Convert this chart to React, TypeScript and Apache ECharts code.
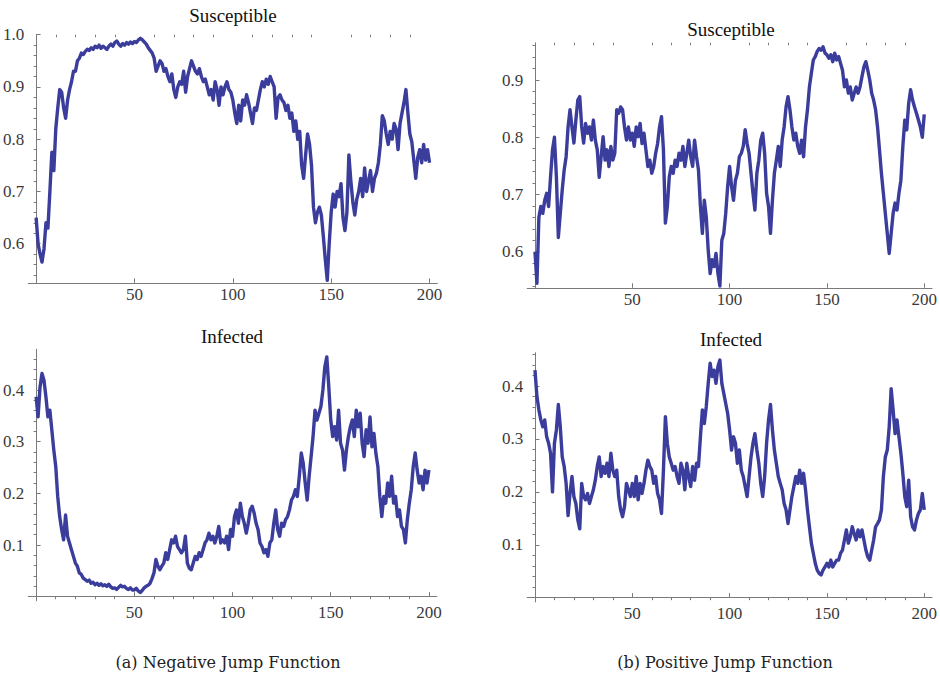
import React, { useEffect, useRef } from 'react';
import * as echarts from 'echarts';

// ---------------- data ----------------
// time steps 0..200 (one value per step)
const S_NEG = [
  0.65, 0.60, 0.58, 0.565, 0.59, 0.64, 0.63, 0.70, 0.775, 0.74,
  0.82, 0.86, 0.895, 0.89, 0.86, 0.84, 0.875, 0.895, 0.91, 0.93,
  0.93, 0.95, 0.955, 0.965, 0.962, 0.968, 0.972, 0.97, 0.975, 0.972,
  0.978, 0.975, 0.98, 0.974, 0.978, 0.975, 0.972, 0.978, 0.982, 0.978,
  0.985, 0.988, 0.982, 0.978, 0.983, 0.98, 0.985, 0.982, 0.986, 0.983,
  0.987, 0.985, 0.99, 0.993, 0.99, 0.986, 0.982, 0.975, 0.97, 0.965,
  0.955, 0.93, 0.94, 0.95, 0.945, 0.93, 0.935, 0.92, 0.91, 0.925,
  0.895, 0.88, 0.90, 0.91, 0.905, 0.93, 0.89, 0.92, 0.935, 0.95,
  0.94, 0.93, 0.925, 0.935, 0.92, 0.91, 0.915, 0.90, 0.885, 0.895,
  0.875, 0.91, 0.895, 0.865, 0.90, 0.885, 0.90, 0.91, 0.895, 0.89,
  0.875, 0.85, 0.83, 0.865, 0.835, 0.875, 0.865, 0.885, 0.87, 0.85,
  0.83, 0.86, 0.855, 0.875, 0.895, 0.91, 0.90, 0.915, 0.905, 0.92,
  0.91, 0.90, 0.84, 0.88, 0.885, 0.875, 0.87, 0.855, 0.865, 0.84,
  0.85, 0.815, 0.835, 0.80, 0.815, 0.75, 0.725, 0.77, 0.81, 0.79,
  0.75, 0.67, 0.64, 0.66, 0.67, 0.655, 0.615, 0.57, 0.53, 0.60,
  0.66, 0.695, 0.67, 0.70, 0.69, 0.715, 0.65, 0.625, 0.66, 0.77,
  0.72, 0.68, 0.655, 0.685, 0.70, 0.725, 0.69, 0.745, 0.70, 0.72,
  0.74, 0.70, 0.725, 0.735, 0.755, 0.79, 0.845, 0.835, 0.81, 0.79,
  0.815, 0.80, 0.83, 0.82, 0.78, 0.83, 0.85, 0.87, 0.895, 0.85,
  0.81, 0.795, 0.76, 0.725, 0.765, 0.78, 0.755, 0.79, 0.76, 0.78,
  0.755,
];

const S_POS = [
  0.60, 0.545, 0.66, 0.679, 0.667, 0.69, 0.702, 0.679, 0.731, 0.778,
  0.80, 0.731, 0.625, 0.667, 0.708, 0.743, 0.766, 0.818, 0.848, 0.818,
  0.79, 0.83, 0.865, 0.871, 0.818, 0.79, 0.824, 0.807, 0.818, 0.795,
  0.83, 0.795, 0.778, 0.73, 0.766, 0.801, 0.76, 0.778, 0.749, 0.784,
  0.76, 0.772, 0.848, 0.842, 0.853, 0.848, 0.818, 0.795, 0.818, 0.795,
  0.807, 0.784, 0.818, 0.801, 0.824, 0.789, 0.807, 0.778, 0.749, 0.76,
  0.737, 0.749, 0.772, 0.789, 0.818, 0.836, 0.778, 0.65, 0.679, 0.731,
  0.749, 0.737, 0.76, 0.749, 0.772, 0.76, 0.784, 0.749, 0.772, 0.795,
  0.766, 0.749, 0.795, 0.766, 0.743, 0.679, 0.632, 0.69, 0.661, 0.603,
  0.562, 0.586, 0.574, 0.597, 0.562, 0.54, 0.62, 0.632, 0.667, 0.714,
  0.749, 0.714, 0.69, 0.725, 0.737, 0.766, 0.772, 0.784, 0.813, 0.789,
  0.772, 0.737, 0.702, 0.673, 0.737, 0.76, 0.795, 0.807, 0.772, 0.702,
  0.679, 0.632, 0.69, 0.737, 0.76, 0.784, 0.749, 0.795, 0.818, 0.853,
  0.871, 0.848, 0.818, 0.795, 0.807, 0.784, 0.772, 0.795, 0.766, 0.818,
  0.848, 0.888, 0.912, 0.935, 0.941, 0.95, 0.955, 0.952, 0.958, 0.947,
  0.944, 0.938, 0.944, 0.932, 0.947, 0.935, 0.941, 0.929, 0.917, 0.888,
  0.90, 0.877, 0.888, 0.865, 0.877, 0.888, 0.877, 0.888, 0.906, 0.923,
  0.932, 0.917, 0.90, 0.877, 0.865, 0.848, 0.818, 0.778, 0.737, 0.702,
  0.667, 0.632, 0.597, 0.632, 0.667, 0.685, 0.673, 0.702, 0.725, 0.784,
  0.83, 0.813, 0.859, 0.883, 0.865, 0.853, 0.842, 0.83, 0.818, 0.80,
  0.84,
];

const I_NEG = [
  0.387, 0.348, 0.406, 0.432, 0.419, 0.387, 0.348, 0.361, 0.323, 0.284,
  0.252, 0.194, 0.155, 0.13, 0.11, 0.158, 0.117, 0.104, 0.091, 0.078,
  0.065, 0.059, 0.046, 0.043, 0.036, 0.033, 0.03, 0.032, 0.026, 0.028,
  0.023, 0.026, 0.022, 0.025, 0.021, 0.023, 0.02, 0.024, 0.019, 0.016,
  0.017, 0.014, 0.018, 0.022, 0.019, 0.02, 0.016, 0.014, 0.017, 0.013,
  0.013, 0.016, 0.011, 0.008, 0.012, 0.017, 0.02, 0.022, 0.026, 0.035,
  0.046, 0.072, 0.059, 0.052, 0.059, 0.065, 0.085, 0.072, 0.091, 0.11,
  0.104, 0.117, 0.097, 0.091, 0.085, 0.091, 0.117, 0.065, 0.055, 0.052,
  0.065, 0.078, 0.072, 0.085, 0.078, 0.091, 0.104, 0.11, 0.123, 0.11,
  0.117, 0.104, 0.117, 0.136, 0.104, 0.11, 0.104, 0.117, 0.091, 0.13,
  0.117, 0.155, 0.168, 0.142, 0.181, 0.155, 0.142, 0.123, 0.142, 0.168,
  0.175, 0.162, 0.142, 0.13, 0.104, 0.097, 0.085, 0.091, 0.078, 0.104,
  0.11, 0.142, 0.168, 0.13, 0.117, 0.142, 0.136, 0.149, 0.155, 0.168,
  0.187, 0.194, 0.207, 0.194, 0.233, 0.278, 0.258, 0.22, 0.187, 0.233,
  0.271, 0.31, 0.361, 0.342, 0.355, 0.368, 0.40, 0.445, 0.464, 0.407,
  0.342, 0.31, 0.329, 0.303, 0.361, 0.297, 0.284, 0.245, 0.284, 0.31,
  0.329, 0.342, 0.31, 0.361, 0.329, 0.355, 0.297, 0.271, 0.323, 0.297,
  0.348, 0.29, 0.316, 0.277, 0.252, 0.194, 0.155, 0.194, 0.181, 0.22,
  0.194, 0.233, 0.181, 0.194, 0.155, 0.168, 0.136, 0.13, 0.104, 0.149,
  0.181, 0.207, 0.252, 0.278, 0.245, 0.22, 0.233, 0.207, 0.245, 0.22,
  0.245,
];

const I_POS = [
  0.43, 0.38, 0.355, 0.336, 0.323, 0.336, 0.304, 0.292, 0.273, 0.20,
  0.292, 0.317, 0.365, 0.323, 0.266, 0.248, 0.216, 0.155, 0.197, 0.229,
  0.191, 0.178, 0.147, 0.13, 0.216, 0.191, 0.185, 0.197, 0.178, 0.191,
  0.204, 0.222, 0.248, 0.266, 0.229, 0.248, 0.235, 0.254, 0.229, 0.273,
  0.241, 0.229, 0.241, 0.191, 0.166, 0.153, 0.172, 0.216, 0.204, 0.191,
  0.216, 0.191, 0.229, 0.185, 0.216, 0.197, 0.216, 0.241, 0.26, 0.248,
  0.241, 0.216, 0.229, 0.197, 0.185, 0.159, 0.241, 0.342, 0.292, 0.266,
  0.254, 0.241, 0.248, 0.229, 0.216, 0.254, 0.241, 0.204, 0.254, 0.229,
  0.21, 0.248, 0.222, 0.254, 0.248, 0.304, 0.355, 0.329, 0.361, 0.405,
  0.443, 0.418, 0.43, 0.405, 0.437, 0.449, 0.405, 0.386, 0.367, 0.348,
  0.317, 0.279, 0.304, 0.292, 0.254, 0.279, 0.241, 0.229, 0.21, 0.191,
  0.229, 0.266, 0.292, 0.31, 0.279, 0.254, 0.216, 0.191, 0.229, 0.292,
  0.336, 0.365, 0.317, 0.279, 0.254, 0.229, 0.216, 0.204, 0.178, 0.166,
  0.14, 0.166, 0.191, 0.21, 0.229, 0.216, 0.241, 0.216, 0.235, 0.204,
  0.166, 0.134, 0.103, 0.084, 0.065, 0.052, 0.046, 0.043, 0.052, 0.058,
  0.065, 0.058, 0.071, 0.058, 0.065, 0.071, 0.071, 0.084, 0.09, 0.109,
  0.128, 0.103, 0.115, 0.134, 0.121, 0.109, 0.128, 0.115, 0.128, 0.109,
  0.09, 0.077, 0.071, 0.09, 0.109, 0.134, 0.14, 0.147, 0.166, 0.229,
  0.266, 0.279, 0.323, 0.395, 0.355, 0.31, 0.336, 0.304, 0.273, 0.235,
  0.191, 0.172, 0.222, 0.153, 0.134, 0.128, 0.147, 0.159, 0.166, 0.197,
  0.166,
];

// tick marks / labels
const X_MAJOR = [50, 100, 150, 200];
const X_MINOR = [10, 20, 30, 40, 60, 70, 80, 90, 110, 120, 130, 140, 160, 170, 180, 190];
const S_NEG_MAJOR = [0.6, 0.7, 0.8, 0.9, 1.0];
const S_NEG_MINOR = [0.54, 0.56, 0.58, 0.62, 0.64, 0.66, 0.68, 0.72, 0.74, 0.76, 0.78, 0.82, 0.84, 0.86, 0.88, 0.92, 0.94, 0.96, 0.98];
const S_POS_MAJOR = [0.6, 0.7, 0.8, 0.9];
const S_POS_MINOR = [0.54, 0.56, 0.58, 0.62, 0.64, 0.66, 0.68, 0.72, 0.74, 0.76, 0.78, 0.82, 0.84, 0.86, 0.88, 0.92, 0.94, 0.96];
const I_MAJOR = [0.1, 0.2, 0.3, 0.4];
const I_MINOR = [0.02, 0.04, 0.06, 0.08, 0.12, 0.14, 0.16, 0.18, 0.22, 0.24, 0.26, 0.28, 0.32, 0.34, 0.36, 0.38, 0.42, 0.44, 0.46];

const TITLES = ['Susceptible', 'Susceptible', 'Infected', 'Infected'];
const CAPTIONS = ['(a) Negative Jump Function', '(b) Positive Jump Function'];

// ---------------- styling ----------------
const LINE_COLOR = '#3b3d9c';
const AXIS_COLOR = '#7a7a7a';
const LABEL_COLOR = '#3a3a3a';
const SERIF = "'Liberation Serif', 'Times New Roman', serif";
const CAPTION_FONT = "'DejaVu Serif', serif";

type Panel = {
  data: number[];
  yMin: number;
  yMax: number;
  major: number[];
  minor: number[];
  grid: { left: number; top: number; width: number; height: number };
  title: { x: number; y: number };
};

const PANELS: Panel[] = [
  { data: S_NEG, yMin: 0.525, yMax: 1.0, major: S_NEG_MAJOR, minor: S_NEG_MINOR,
    grid: { left: 27.6, top: 34.7, width: 409.8, height: 248.2 }, title: { x: 233, y: 6 } },
  { data: S_POS, yMin: 0.537, yMax: 0.965, major: S_POS_MAJOR, minor: S_POS_MINOR,
    grid: { left: 527.2, top: 42.8, width: 407.3, height: 245 }, title: { x: 731, y: 20 } },
  { data: I_NEG, yMin: -0.008, yMax: 0.479, major: I_MAJOR, minor: I_MINOR,
    grid: { left: 28.1, top: 349.2, width: 408.7, height: 251.6 }, title: { x: 232, y: 327 } },
  { data: I_POS, yMin: -0.008, yMax: 0.463, major: I_MAJOR, minor: I_MINOR,
    grid: { left: 527.2, top: 352.7, width: 407.3, height: 249.2 }, title: { x: 731, y: 330 } },
];

function buildOption() {
  const grid: any[] = [];
  const xAxis: any[] = [];
  const yAxis: any[] = [];
  const series: any[] = [];
  const title: any[] = [];

  PANELS.forEach((p, g) => {
    grid.push({ ...p.grid, containLabel: false });
    const xBase = {
      type: 'value', gridIndex: g, min: -4, max: 204,
      splitLine: { show: false },
    };
    xAxis.push({
      ...xBase,
      axisLine: { show: true, onZero: true, lineStyle: { color: AXIS_COLOR, width: 1 } },
      axisTick: { show: true, inside: true, length: 4.5, customValues: X_MAJOR, lineStyle: { color: AXIS_COLOR } },
      axisLabel: { show: true, customValues: X_MAJOR, color: LABEL_COLOR, fontFamily: SERIF, fontSize: 17, margin: 3 },
    });
    xAxis.push({
      ...xBase,
      axisLine: { show: false, onZero: true },
      axisTick: { show: true, inside: true, length: 2.5, customValues: X_MINOR, lineStyle: { color: AXIS_COLOR } },
      axisLabel: { show: false },
    });
    const yBase = {
      type: 'value', gridIndex: g, min: p.yMin, max: p.yMax,
      splitLine: { show: false },
    };
    yAxis.push({
      ...yBase,
      axisLine: { show: true, onZero: true, onZeroAxisIndex: 2 * g, lineStyle: { color: AXIS_COLOR, width: 1 } },
      axisTick: { show: true, inside: true, length: 4.5, customValues: p.major, lineStyle: { color: AXIS_COLOR } },
      axisLabel: {
        show: true, customValues: p.major, color: LABEL_COLOR, fontFamily: SERIF, fontSize: 17, margin: 4,
        formatter: (v: number) => v.toFixed(1),
      },
    });
    yAxis.push({
      ...yBase,
      axisLine: { show: false, onZero: true, onZeroAxisIndex: 2 * g },
      axisTick: { show: true, inside: true, length: 2.5, customValues: p.minor, lineStyle: { color: AXIS_COLOR } },
      axisLabel: { show: false },
    });
    series.push({
      type: 'line',
      xAxisIndex: 2 * g,
      yAxisIndex: 2 * g,
      showSymbol: false,
      symbol: 'none',
      lineStyle: { color: LINE_COLOR, width: 3.4, join: 'round' },
      data: p.data.map((v, i) => [i, v]),
    });
    title.push({
      text: TITLES[g],
      left: p.title.x,
      top: p.title.y,
      textAlign: 'center',
      padding: 0,
      textStyle: { fontFamily: SERIF, fontSize: 19, fontWeight: 'normal', color: '#111' },
    });
  });

  title.push({
    text: CAPTIONS[0], left: 228, top: 654, textAlign: 'center', padding: 0,
    textStyle: { fontFamily: CAPTION_FONT, fontSize: 16, fontWeight: 'normal', color: '#222' },
  });
  title.push({
    text: CAPTIONS[1], left: 725, top: 654, textAlign: 'center', padding: 0,
    textStyle: { fontFamily: CAPTION_FONT, fontSize: 16, fontWeight: 'normal', color: '#222' },
  });

  return {
    animation: false,
    backgroundColor: '#ffffff',
    title,
    grid,
    xAxis,
    yAxis,
    series,
  };
}

export default function App() {
  const ref = useRef<HTMLDivElement>(null);
  useEffect(() => {
    if (!ref.current) return;
    const chart = echarts.init(ref.current, undefined, { renderer: 'svg', width: 940, height: 676 });
    chart.setOption(buildOption() as any);
    return () => chart.dispose();
  }, []);
  return (
    <div
      ref={ref}
      style={{ position: 'absolute', left: 0, top: 0, width: 940, height: 676, background: '#fff' }}
    />
  );
}
